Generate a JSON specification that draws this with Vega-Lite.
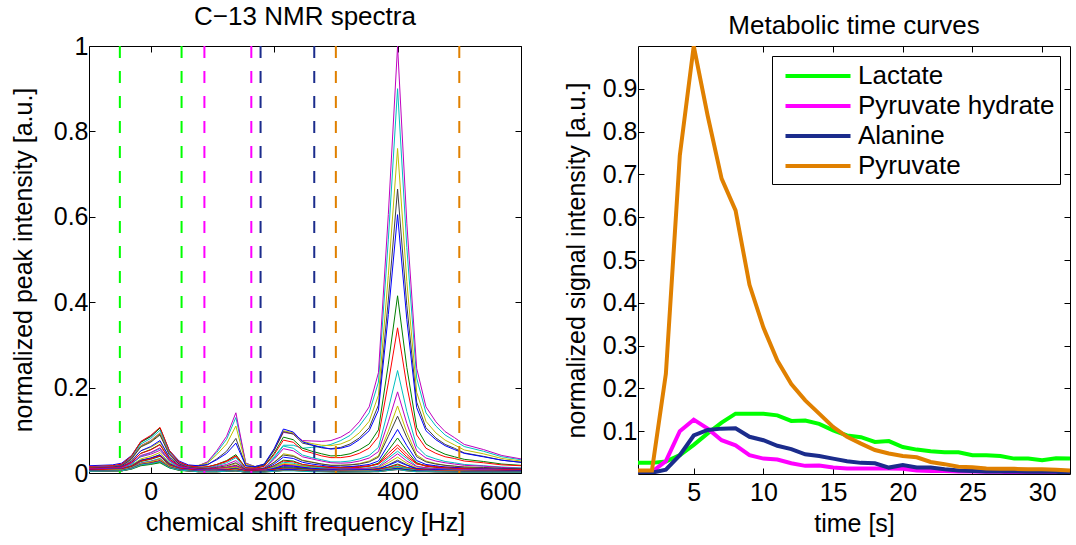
{
"$schema":"https://vega.github.io/schema/vega-lite/v6.json",
"background":"white",
"padding":{"left":10,"top":3,"right":5,"bottom":5},
"bounds":"flush",
"spacing":117,
"config":{
 "font":"Liberation Sans",
 "view":{"stroke":"black","strokeWidth":1},
 "axis":{"domain":false,"grid":false,"labelFont":"Liberation Sans","labelFontSize":25,"labelColor":"black","titleFont":"Liberation Sans","titleFontSize":25,"titleFontWeight":"normal","titleColor":"black","tickColor":"black","tickSize":-6,"tickWidth":1,"labelPadding":7,"titlePadding":17},
 "axisX":{"labelPadding":12,"titlePadding":6},
 "title":{"font":"Liberation Sans","fontSize":26,"fontWeight":"normal","color":"black","offset":0}
},
"datasets":{
"windows":[{"m":"Lactate","f":-50},{"m":"Lactate","f":50},{"m":"Pyruvate hydrate","f":87},{"m":"Pyruvate hydrate","f":163},{"m":"Alanine","f":178},{"m":"Alanine","f":265},{"m":"Pyruvate","f":300},{"m":"Pyruvate","f":500}],
"curves":[
{"m":"Lactate","t":1,"v":0.026},{"m":"Lactate","t":2,"v":0.026},{"m":"Lactate","t":3,"v":0.029},{"m":"Lactate","t":4,"v":0.044},{"m":"Lactate","t":5,"v":0.068},{"m":"Lactate","t":6,"v":0.095},{"m":"Lactate","t":7,"v":0.12},{"m":"Lactate","t":8,"v":0.141},{"m":"Lactate","t":9,"v":0.141},{"m":"Lactate","t":10,"v":0.141},{"m":"Lactate","t":11,"v":0.137},{"m":"Lactate","t":12,"v":0.124},{"m":"Lactate","t":13,"v":0.125},{"m":"Lactate","t":14,"v":0.117},{"m":"Lactate","t":15,"v":0.102},{"m":"Lactate","t":16,"v":0.09},{"m":"Lactate","t":17,"v":0.086},{"m":"Lactate","t":18,"v":0.075},{"m":"Lactate","t":19,"v":0.077},{"m":"Lactate","t":20,"v":0.063},{"m":"Lactate","t":21,"v":0.057},{"m":"Lactate","t":22,"v":0.053},{"m":"Lactate","t":23,"v":0.051},{"m":"Lactate","t":24,"v":0.051},{"m":"Lactate","t":25,"v":0.044},{"m":"Lactate","t":26,"v":0.044},{"m":"Lactate","t":27,"v":0.042},{"m":"Lactate","t":28,"v":0.036},{"m":"Lactate","t":29,"v":0.036},{"m":"Lactate","t":30,"v":0.032},{"m":"Lactate","t":31,"v":0.037},{"m":"Lactate","t":32,"v":0.036},
{"m":"Pyruvate hydrate","t":1,"v":0.003},{"m":"Pyruvate hydrate","t":2,"v":0.005},{"m":"Pyruvate hydrate","t":3,"v":0.03},{"m":"Pyruvate hydrate","t":4,"v":0.1},{"m":"Pyruvate hydrate","t":5,"v":0.127},{"m":"Pyruvate hydrate","t":6,"v":0.106},{"m":"Pyruvate hydrate","t":7,"v":0.079},{"m":"Pyruvate hydrate","t":8,"v":0.067},{"m":"Pyruvate hydrate","t":9,"v":0.044},{"m":"Pyruvate hydrate","t":10,"v":0.036},{"m":"Pyruvate hydrate","t":11,"v":0.034},{"m":"Pyruvate hydrate","t":12,"v":0.025},{"m":"Pyruvate hydrate","t":13,"v":0.019},{"m":"Pyruvate hydrate","t":14,"v":0.02},{"m":"Pyruvate hydrate","t":15,"v":0.015},{"m":"Pyruvate hydrate","t":16,"v":0.013},{"m":"Pyruvate hydrate","t":17,"v":0.013},{"m":"Pyruvate hydrate","t":18,"v":0.013},{"m":"Pyruvate hydrate","t":19,"v":0.013},{"m":"Pyruvate hydrate","t":20,"v":0.012},{"m":"Pyruvate hydrate","t":21,"v":0.008},{"m":"Pyruvate hydrate","t":22,"v":0.007},{"m":"Pyruvate hydrate","t":23,"v":0.007},{"m":"Pyruvate hydrate","t":24,"v":0.006},{"m":"Pyruvate hydrate","t":25,"v":0.006},{"m":"Pyruvate hydrate","t":26,"v":0.005},{"m":"Pyruvate hydrate","t":27,"v":0.005},{"m":"Pyruvate hydrate","t":28,"v":0.004},{"m":"Pyruvate hydrate","t":29,"v":0.004},{"m":"Pyruvate hydrate","t":30,"v":0.004},{"m":"Pyruvate hydrate","t":31,"v":0.003},{"m":"Pyruvate hydrate","t":32,"v":0.003},
{"m":"Alanine","t":1,"v":0.003},{"m":"Alanine","t":2,"v":0.003},{"m":"Alanine","t":3,"v":0.01},{"m":"Alanine","t":4,"v":0.044},{"m":"Alanine","t":5,"v":0.09},{"m":"Alanine","t":6,"v":0.103},{"m":"Alanine","t":7,"v":0.106},{"m":"Alanine","t":8,"v":0.107},{"m":"Alanine","t":9,"v":0.087},{"m":"Alanine","t":10,"v":0.079},{"m":"Alanine","t":11,"v":0.066},{"m":"Alanine","t":12,"v":0.058},{"m":"Alanine","t":13,"v":0.046},{"m":"Alanine","t":14,"v":0.042},{"m":"Alanine","t":15,"v":0.036},{"m":"Alanine","t":16,"v":0.03},{"m":"Alanine","t":17,"v":0.026},{"m":"Alanine","t":18,"v":0.025},{"m":"Alanine","t":19,"v":0.015},{"m":"Alanine","t":20,"v":0.021},{"m":"Alanine","t":21,"v":0.015},{"m":"Alanine","t":22,"v":0.015},{"m":"Alanine","t":23,"v":0.011},{"m":"Alanine","t":24,"v":0.008},{"m":"Alanine","t":25,"v":0.007},{"m":"Alanine","t":26,"v":0.006},{"m":"Alanine","t":27,"v":0.006},{"m":"Alanine","t":28,"v":0.006},{"m":"Alanine","t":29,"v":0.005},{"m":"Alanine","t":30,"v":0.005},{"m":"Alanine","t":31,"v":0.005},{"m":"Alanine","t":32,"v":0.003},
{"m":"Pyruvate","t":1,"v":0.008},{"m":"Pyruvate","t":2,"v":0.008},{"m":"Pyruvate","t":3,"v":0.234},{"m":"Pyruvate","t":4,"v":0.744},{"m":"Pyruvate","t":5,"v":1.0},{"m":"Pyruvate","t":6,"v":0.837},{"m":"Pyruvate","t":7,"v":0.69},{"m":"Pyruvate","t":8,"v":0.616},{"m":"Pyruvate","t":9,"v":0.442},{"m":"Pyruvate","t":10,"v":0.342},{"m":"Pyruvate","t":11,"v":0.265},{"m":"Pyruvate","t":12,"v":0.21},{"m":"Pyruvate","t":13,"v":0.172},{"m":"Pyruvate","t":14,"v":0.141},{"m":"Pyruvate","t":15,"v":0.11},{"m":"Pyruvate","t":16,"v":0.087},{"m":"Pyruvate","t":17,"v":0.071},{"m":"Pyruvate","t":18,"v":0.056},{"m":"Pyruvate","t":19,"v":0.048},{"m":"Pyruvate","t":20,"v":0.042},{"m":"Pyruvate","t":21,"v":0.039},{"m":"Pyruvate","t":22,"v":0.028},{"m":"Pyruvate","t":23,"v":0.023},{"m":"Pyruvate","t":24,"v":0.017},{"m":"Pyruvate","t":25,"v":0.016},{"m":"Pyruvate","t":26,"v":0.013},{"m":"Pyruvate","t":27,"v":0.012},{"m":"Pyruvate","t":28,"v":0.012},{"m":"Pyruvate","t":29,"v":0.011},{"m":"Pyruvate","t":30,"v":0.011},{"m":"Pyruvate","t":31,"v":0.01},{"m":"Pyruvate","t":32,"v":0.008}
],
"spectra":[
{"s":1,"f":-100,"v":0.011},{"s":1,"f":-47,"v":0.012},{"s":1,"f":-31,"v":0.016},{"s":1,"f":-16,"v":0.022},{"s":1,"f":0,"v":0.024},{"s":1,"f":15,"v":0.028},{"s":1,"f":30,"v":0.018},{"s":1,"f":46,"v":0.013},{"s":1,"f":77,"v":0.011},{"s":1,"f":107,"v":0.011},{"s":1,"f":123,"v":0.011},{"s":1,"f":138,"v":0.012},{"s":1,"f":154,"v":0.01},{"s":1,"f":184,"v":0.01},{"s":1,"f":200,"v":0.011},{"s":1,"f":215,"v":0.012},{"s":1,"f":231,"v":0.012},{"s":1,"f":261,"v":0.011},{"s":1,"f":308,"v":0.01},{"s":1,"f":354,"v":0.011},{"s":1,"f":369,"v":0.011},{"s":1,"f":385,"v":0.012},{"s":1,"f":400,"v":0.014},{"s":1,"f":415,"v":0.012},{"s":1,"f":431,"v":0.011},{"s":1,"f":462,"v":0.01},{"s":1,"f":508,"v":0.01},{"s":1,"f":554,"v":0.01},{"s":1,"f":600,"v":0.01},
{"s":2,"f":-100,"v":0.009},{"s":2,"f":-47,"v":0.01},{"s":2,"f":-31,"v":0.014},{"s":2,"f":-16,"v":0.02},{"s":2,"f":0,"v":0.022},{"s":2,"f":15,"v":0.026},{"s":2,"f":30,"v":0.016},{"s":2,"f":46,"v":0.011},{"s":2,"f":77,"v":0.009},{"s":2,"f":107,"v":0.009},{"s":2,"f":123,"v":0.01},{"s":2,"f":138,"v":0.012},{"s":2,"f":154,"v":0.008},{"s":2,"f":184,"v":0.008},{"s":2,"f":200,"v":0.01},{"s":2,"f":215,"v":0.011},{"s":2,"f":231,"v":0.011},{"s":2,"f":261,"v":0.009},{"s":2,"f":308,"v":0.009},{"s":2,"f":354,"v":0.009},{"s":2,"f":369,"v":0.009},{"s":2,"f":385,"v":0.012},{"s":2,"f":400,"v":0.014},{"s":2,"f":415,"v":0.011},{"s":2,"f":431,"v":0.009},{"s":2,"f":462,"v":0.009},{"s":2,"f":508,"v":0.008},{"s":2,"f":554,"v":0.008},{"s":2,"f":600,"v":0.008},
{"s":3,"f":-100,"v":0.011},{"s":3,"f":-47,"v":0.012},{"s":3,"f":-31,"v":0.016},{"s":3,"f":-16,"v":0.022},{"s":3,"f":0,"v":0.025},{"s":3,"f":15,"v":0.029},{"s":3,"f":30,"v":0.018},{"s":3,"f":46,"v":0.013},{"s":3,"f":77,"v":0.011},{"s":3,"f":107,"v":0.019},{"s":3,"f":123,"v":0.027},{"s":3,"f":138,"v":0.039},{"s":3,"f":154,"v":0.012},{"s":3,"f":184,"v":0.01},{"s":3,"f":200,"v":0.015},{"s":3,"f":215,"v":0.02},{"s":3,"f":231,"v":0.019},{"s":3,"f":261,"v":0.015},{"s":3,"f":308,"v":0.013},{"s":3,"f":354,"v":0.017},{"s":3,"f":369,"v":0.021},{"s":3,"f":385,"v":0.039},{"s":3,"f":400,"v":0.059},{"s":3,"f":415,"v":0.038},{"s":3,"f":431,"v":0.021},{"s":3,"f":462,"v":0.015},{"s":3,"f":508,"v":0.012},{"s":3,"f":554,"v":0.011},{"s":3,"f":600,"v":0.01},
{"s":4,"f":-100,"v":0.012},{"s":4,"f":-62,"v":0.012},{"s":4,"f":-47,"v":0.014},{"s":4,"f":-31,"v":0.02},{"s":4,"f":-16,"v":0.03},{"s":4,"f":0,"v":0.034},{"s":4,"f":15,"v":0.041},{"s":4,"f":30,"v":0.024},{"s":4,"f":46,"v":0.015},{"s":4,"f":61,"v":0.015},{"s":4,"f":77,"v":0.017},{"s":4,"f":92,"v":0.025},{"s":4,"f":107,"v":0.048},{"s":4,"f":123,"v":0.079},{"s":4,"f":138,"v":0.13},{"s":4,"f":154,"v":0.023},{"s":4,"f":169,"v":0.015},{"s":4,"f":184,"v":0.018},{"s":4,"f":200,"v":0.038},{"s":4,"f":215,"v":0.065},{"s":4,"f":231,"v":0.065},{"s":4,"f":246,"v":0.058},{"s":4,"f":261,"v":0.06},{"s":4,"f":277,"v":0.062},{"s":4,"f":292,"v":0.067},{"s":4,"f":308,"v":0.076},{"s":4,"f":323,"v":0.088},{"s":4,"f":338,"v":0.11},{"s":4,"f":354,"v":0.141},{"s":4,"f":369,"v":0.213},{"s":4,"f":385,"v":0.546},{"s":4,"f":400,"v":0.9},{"s":4,"f":415,"v":0.528},{"s":4,"f":431,"v":0.222},{"s":4,"f":446,"v":0.141},{"s":4,"f":462,"v":0.11},{"s":4,"f":477,"v":0.089},{"s":4,"f":492,"v":0.076},{"s":4,"f":508,"v":0.062},{"s":4,"f":539,"v":0.051},{"s":4,"f":569,"v":0.038},{"s":4,"f":600,"v":0.031},
{"s":5,"f":-100,"v":0.012},{"s":5,"f":-62,"v":0.013},{"s":5,"f":-47,"v":0.015},{"s":5,"f":-31,"v":0.023},{"s":5,"f":-16,"v":0.038},{"s":5,"f":0,"v":0.044},{"s":5,"f":15,"v":0.053},{"s":5,"f":30,"v":0.029},{"s":5,"f":46,"v":0.017},{"s":5,"f":61,"v":0.015},{"s":5,"f":77,"v":0.017},{"s":5,"f":92,"v":0.026},{"s":5,"f":107,"v":0.052},{"s":5,"f":123,"v":0.086},{"s":5,"f":138,"v":0.141},{"s":5,"f":154,"v":0.023},{"s":5,"f":169,"v":0.015},{"s":5,"f":184,"v":0.02},{"s":5,"f":200,"v":0.053},{"s":5,"f":215,"v":0.095},{"s":5,"f":231,"v":0.092},{"s":5,"f":246,"v":0.076},{"s":5,"f":261,"v":0.075},{"s":5,"f":277,"v":0.074},{"s":5,"f":292,"v":0.076},{"s":5,"f":308,"v":0.084},{"s":5,"f":323,"v":0.097},{"s":5,"f":338,"v":0.12},{"s":5,"f":354,"v":0.155},{"s":5,"f":369,"v":0.235},{"s":5,"f":385,"v":0.605},{"s":5,"f":400,"v":1.0},{"s":5,"f":415,"v":0.585},{"s":5,"f":431,"v":0.245},{"s":5,"f":446,"v":0.155},{"s":5,"f":462,"v":0.12},{"s":5,"f":477,"v":0.097},{"s":5,"f":492,"v":0.083},{"s":5,"f":508,"v":0.067},{"s":5,"f":539,"v":0.055},{"s":5,"f":569,"v":0.041},{"s":5,"f":600,"v":0.033},
{"s":6,"f":-100,"v":0.014},{"s":6,"f":-62,"v":0.016},{"s":6,"f":-47,"v":0.018},{"s":6,"f":-31,"v":0.03},{"s":6,"f":-16,"v":0.052},{"s":6,"f":0,"v":0.06},{"s":6,"f":15,"v":0.073},{"s":6,"f":30,"v":0.038},{"s":6,"f":46,"v":0.021},{"s":6,"f":61,"v":0.017},{"s":6,"f":77,"v":0.018},{"s":6,"f":92,"v":0.023},{"s":6,"f":107,"v":0.043},{"s":6,"f":123,"v":0.068},{"s":6,"f":138,"v":0.11},{"s":6,"f":154,"v":0.021},{"s":6,"f":169,"v":0.015},{"s":6,"f":184,"v":0.021},{"s":6,"f":200,"v":0.055},{"s":6,"f":215,"v":0.099},{"s":6,"f":231,"v":0.094},{"s":6,"f":246,"v":0.074},{"s":6,"f":261,"v":0.069},{"s":6,"f":277,"v":0.065},{"s":6,"f":292,"v":0.064},{"s":6,"f":308,"v":0.068},{"s":6,"f":323,"v":0.077},{"s":6,"f":338,"v":0.094},{"s":6,"f":354,"v":0.121},{"s":6,"f":369,"v":0.182},{"s":6,"f":385,"v":0.463},{"s":6,"f":400,"v":0.76},{"s":6,"f":415,"v":0.448},{"s":6,"f":431,"v":0.189},{"s":6,"f":446,"v":0.121},{"s":6,"f":462,"v":0.094},{"s":6,"f":477,"v":0.077},{"s":6,"f":492,"v":0.066},{"s":6,"f":508,"v":0.054},{"s":6,"f":539,"v":0.045},{"s":6,"f":569,"v":0.034},{"s":6,"f":600,"v":0.028},
{"s":7,"f":-100,"v":0.014},{"s":7,"f":-62,"v":0.016},{"s":7,"f":-47,"v":0.019},{"s":7,"f":-31,"v":0.035},{"s":7,"f":-16,"v":0.063},{"s":7,"f":0,"v":0.074},{"s":7,"f":15,"v":0.091},{"s":7,"f":30,"v":0.046},{"s":7,"f":46,"v":0.023},{"s":7,"f":61,"v":0.017},{"s":7,"f":77,"v":0.016},{"s":7,"f":92,"v":0.019},{"s":7,"f":107,"v":0.033},{"s":7,"f":123,"v":0.051},{"s":7,"f":138,"v":0.081},{"s":7,"f":154,"v":0.017},{"s":7,"f":169,"v":0.013},{"s":7,"f":184,"v":0.019},{"s":7,"f":200,"v":0.053},{"s":7,"f":215,"v":0.097},{"s":7,"f":231,"v":0.091},{"s":7,"f":246,"v":0.07},{"s":7,"f":261,"v":0.065},{"s":7,"f":277,"v":0.059},{"s":7,"f":292,"v":0.057},{"s":7,"f":308,"v":0.06},{"s":7,"f":323,"v":0.068},{"s":7,"f":338,"v":0.082},{"s":7,"f":354,"v":0.106},{"s":7,"f":369,"v":0.159},{"s":7,"f":385,"v":0.405},{"s":7,"f":400,"v":0.665},{"s":7,"f":415,"v":0.392},{"s":7,"f":431,"v":0.166},{"s":7,"f":446,"v":0.106},{"s":7,"f":462,"v":0.082},{"s":7,"f":477,"v":0.067},{"s":7,"f":492,"v":0.058},{"s":7,"f":508,"v":0.047},{"s":7,"f":539,"v":0.039},{"s":7,"f":569,"v":0.03},{"s":7,"f":600,"v":0.025},
{"s":8,"f":-100,"v":0.017},{"s":8,"f":-62,"v":0.019},{"s":8,"f":-47,"v":0.023},{"s":8,"f":-31,"v":0.041},{"s":8,"f":-16,"v":0.073},{"s":8,"f":0,"v":0.086},{"s":8,"f":15,"v":0.105},{"s":8,"f":30,"v":0.053},{"s":8,"f":46,"v":0.028},{"s":8,"f":61,"v":0.019},{"s":8,"f":77,"v":0.017},{"s":8,"f":92,"v":0.02},{"s":8,"f":107,"v":0.031},{"s":8,"f":123,"v":0.046},{"s":8,"f":138,"v":0.07},{"s":8,"f":154,"v":0.017},{"s":8,"f":169,"v":0.015},{"s":8,"f":184,"v":0.021},{"s":8,"f":200,"v":0.057},{"s":8,"f":215,"v":0.103},{"s":8,"f":231,"v":0.096},{"s":8,"f":246,"v":0.073},{"s":8,"f":261,"v":0.066},{"s":8,"f":277,"v":0.06},{"s":8,"f":292,"v":0.056},{"s":8,"f":308,"v":0.058},{"s":8,"f":323,"v":0.064},{"s":8,"f":338,"v":0.078},{"s":8,"f":354,"v":0.099},{"s":8,"f":369,"v":0.147},{"s":8,"f":385,"v":0.371},{"s":8,"f":400,"v":0.605},{"s":8,"f":415,"v":0.359},{"s":8,"f":431,"v":0.153},{"s":8,"f":446,"v":0.099},{"s":8,"f":462,"v":0.078},{"s":8,"f":477,"v":0.064},{"s":8,"f":492,"v":0.055},{"s":8,"f":508,"v":0.046},{"s":8,"f":539,"v":0.038},{"s":8,"f":569,"v":0.03},{"s":8,"f":600,"v":0.025},
{"s":9,"f":-100,"v":0.015},{"s":9,"f":-62,"v":0.016},{"s":9,"f":-47,"v":0.02},{"s":9,"f":-31,"v":0.039},{"s":9,"f":-16,"v":0.072},{"s":9,"f":0,"v":0.085},{"s":9,"f":15,"v":0.105},{"s":9,"f":30,"v":0.051},{"s":9,"f":46,"v":0.025},{"s":9,"f":61,"v":0.016},{"s":9,"f":77,"v":0.013},{"s":9,"f":92,"v":0.014},{"s":9,"f":107,"v":0.02},{"s":9,"f":123,"v":0.029},{"s":9,"f":138,"v":0.043},{"s":9,"f":154,"v":0.012},{"s":9,"f":169,"v":0.011},{"s":9,"f":184,"v":0.016},{"s":9,"f":200,"v":0.046},{"s":9,"f":215,"v":0.084},{"s":9,"f":231,"v":0.078},{"s":9,"f":246,"v":0.058},{"s":9,"f":261,"v":0.051},{"s":9,"f":277,"v":0.045},{"s":9,"f":292,"v":0.04},{"s":9,"f":308,"v":0.041},{"s":9,"f":323,"v":0.045},{"s":9,"f":338,"v":0.054},{"s":9,"f":354,"v":0.068},{"s":9,"f":369,"v":0.101},{"s":9,"f":385,"v":0.255},{"s":9,"f":400,"v":0.415},{"s":9,"f":415,"v":0.247},{"s":9,"f":431,"v":0.106},{"s":9,"f":446,"v":0.068},{"s":9,"f":462,"v":0.054},{"s":9,"f":477,"v":0.044},{"s":9,"f":492,"v":0.038},{"s":9,"f":508,"v":0.032},{"s":9,"f":539,"v":0.027},{"s":9,"f":569,"v":0.021},{"s":9,"f":600,"v":0.018},
{"s":10,"f":-100,"v":0.015},{"s":10,"f":-62,"v":0.017},{"s":10,"f":-47,"v":0.021},{"s":10,"f":-31,"v":0.04},{"s":10,"f":-16,"v":0.074},{"s":10,"f":0,"v":0.088},{"s":10,"f":15,"v":0.107},{"s":10,"f":30,"v":0.053},{"s":10,"f":46,"v":0.026},{"s":10,"f":61,"v":0.017},{"s":10,"f":77,"v":0.014},{"s":10,"f":92,"v":0.014},{"s":10,"f":107,"v":0.02},{"s":10,"f":123,"v":0.028},{"s":10,"f":138,"v":0.04},{"s":10,"f":154,"v":0.012},{"s":10,"f":169,"v":0.011},{"s":10,"f":184,"v":0.016},{"s":10,"f":200,"v":0.043},{"s":10,"f":215,"v":0.077},{"s":10,"f":231,"v":0.072},{"s":10,"f":246,"v":0.053},{"s":10,"f":261,"v":0.047},{"s":10,"f":277,"v":0.04},{"s":10,"f":292,"v":0.036},{"s":10,"f":308,"v":0.036},{"s":10,"f":323,"v":0.039},{"s":10,"f":338,"v":0.046},{"s":10,"f":354,"v":0.058},{"s":10,"f":369,"v":0.085},{"s":10,"f":385,"v":0.211},{"s":10,"f":400,"v":0.34},{"s":10,"f":415,"v":0.204},{"s":10,"f":431,"v":0.089},{"s":10,"f":446,"v":0.058},{"s":10,"f":462,"v":0.046},{"s":10,"f":477,"v":0.038},{"s":10,"f":492,"v":0.034},{"s":10,"f":508,"v":0.028},{"s":10,"f":539,"v":0.024},{"s":10,"f":569,"v":0.019},{"s":10,"f":600,"v":0.017},
{"s":11,"f":-100,"v":0.013},{"s":11,"f":-62,"v":0.015},{"s":11,"f":-47,"v":0.018},{"s":11,"f":-31,"v":0.036},{"s":11,"f":-16,"v":0.068},{"s":11,"f":0,"v":0.081},{"s":11,"f":15,"v":0.1},{"s":11,"f":30,"v":0.048},{"s":11,"f":46,"v":0.023},{"s":11,"f":61,"v":0.014},{"s":11,"f":77,"v":0.011},{"s":11,"f":92,"v":0.012},{"s":11,"f":107,"v":0.017},{"s":11,"f":123,"v":0.024},{"s":11,"f":138,"v":0.036},{"s":11,"f":154,"v":0.009},{"s":11,"f":169,"v":0.008},{"s":11,"f":184,"v":0.012},{"s":11,"f":200,"v":0.035},{"s":11,"f":215,"v":0.063},{"s":11,"f":231,"v":0.058},{"s":11,"f":246,"v":0.042},{"s":11,"f":261,"v":0.036},{"s":11,"f":277,"v":0.031},{"s":11,"f":292,"v":0.026},{"s":11,"f":308,"v":0.026},{"s":11,"f":323,"v":0.028},{"s":11,"f":338,"v":0.033},{"s":11,"f":354,"v":0.041},{"s":11,"f":369,"v":0.06},{"s":11,"f":385,"v":0.149},{"s":11,"f":400,"v":0.24},{"s":11,"f":415,"v":0.144},{"s":11,"f":431,"v":0.063},{"s":11,"f":446,"v":0.041},{"s":11,"f":462,"v":0.033},{"s":11,"f":477,"v":0.027},{"s":11,"f":492,"v":0.024},{"s":11,"f":508,"v":0.02},{"s":11,"f":539,"v":0.017},{"s":11,"f":569,"v":0.014},{"s":11,"f":600,"v":0.012},
{"s":12,"f":-100,"v":0.013},{"s":12,"f":-62,"v":0.015},{"s":12,"f":-47,"v":0.018},{"s":12,"f":-31,"v":0.035},{"s":12,"f":-16,"v":0.064},{"s":12,"f":0,"v":0.076},{"s":12,"f":15,"v":0.094},{"s":12,"f":30,"v":0.046},{"s":12,"f":46,"v":0.023},{"s":12,"f":61,"v":0.014},{"s":12,"f":77,"v":0.011},{"s":12,"f":92,"v":0.011},{"s":12,"f":107,"v":0.015},{"s":12,"f":123,"v":0.02},{"s":12,"f":138,"v":0.029},{"s":12,"f":154,"v":0.009},{"s":12,"f":169,"v":0.009},{"s":12,"f":184,"v":0.012},{"s":12,"f":200,"v":0.032},{"s":12,"f":215,"v":0.057},{"s":12,"f":231,"v":0.052},{"s":12,"f":246,"v":0.038},{"s":12,"f":261,"v":0.033},{"s":12,"f":277,"v":0.028},{"s":12,"f":292,"v":0.024},{"s":12,"f":308,"v":0.023},{"s":12,"f":323,"v":0.024},{"s":12,"f":338,"v":0.028},{"s":12,"f":354,"v":0.035},{"s":12,"f":369,"v":0.05},{"s":12,"f":385,"v":0.12},{"s":12,"f":400,"v":0.19},{"s":12,"f":415,"v":0.116},{"s":12,"f":431,"v":0.052},{"s":12,"f":446,"v":0.035},{"s":12,"f":462,"v":0.028},{"s":12,"f":477,"v":0.024},{"s":12,"f":492,"v":0.021},{"s":12,"f":508,"v":0.018},{"s":12,"f":539,"v":0.016},{"s":12,"f":569,"v":0.013},{"s":12,"f":600,"v":0.011},
{"s":13,"f":-100,"v":0.011},{"s":13,"f":-62,"v":0.013},{"s":13,"f":-47,"v":0.016},{"s":13,"f":-31,"v":0.033},{"s":13,"f":-16,"v":0.063},{"s":13,"f":0,"v":0.075},{"s":13,"f":15,"v":0.093},{"s":13,"f":30,"v":0.044},{"s":13,"f":46,"v":0.02},{"s":13,"f":61,"v":0.012},{"s":13,"f":77,"v":0.009},{"s":13,"f":92,"v":0.008},{"s":13,"f":107,"v":0.011},{"s":13,"f":123,"v":0.015},{"s":13,"f":138,"v":0.022},{"s":13,"f":154,"v":0.007},{"s":13,"f":169,"v":0.006},{"s":13,"f":184,"v":0.009},{"s":13,"f":200,"v":0.025},{"s":13,"f":215,"v":0.045},{"s":13,"f":231,"v":0.041},{"s":13,"f":246,"v":0.03},{"s":13,"f":261,"v":0.026},{"s":13,"f":277,"v":0.021},{"s":13,"f":292,"v":0.018},{"s":13,"f":308,"v":0.018},{"s":13,"f":323,"v":0.019},{"s":13,"f":338,"v":0.022},{"s":13,"f":354,"v":0.028},{"s":13,"f":369,"v":0.04},{"s":13,"f":385,"v":0.098},{"s":13,"f":400,"v":0.157},{"s":13,"f":415,"v":0.095},{"s":13,"f":431,"v":0.042},{"s":13,"f":446,"v":0.028},{"s":13,"f":462,"v":0.022},{"s":13,"f":477,"v":0.018},{"s":13,"f":492,"v":0.016},{"s":13,"f":508,"v":0.014},{"s":13,"f":539,"v":0.012},{"s":13,"f":569,"v":0.01},{"s":13,"f":600,"v":0.008},
{"s":14,"f":-100,"v":0.012},{"s":14,"f":-62,"v":0.014},{"s":14,"f":-47,"v":0.017},{"s":14,"f":-31,"v":0.033},{"s":14,"f":-16,"v":0.061},{"s":14,"f":0,"v":0.072},{"s":14,"f":15,"v":0.089},{"s":14,"f":30,"v":0.043},{"s":14,"f":46,"v":0.021},{"s":14,"f":61,"v":0.013},{"s":14,"f":77,"v":0.011},{"s":14,"f":92,"v":0.01},{"s":14,"f":107,"v":0.013},{"s":14,"f":123,"v":0.017},{"s":14,"f":138,"v":0.024},{"s":14,"f":154,"v":0.008},{"s":14,"f":169,"v":0.008},{"s":14,"f":184,"v":0.011},{"s":14,"f":200,"v":0.025},{"s":14,"f":215,"v":0.042},{"s":14,"f":231,"v":0.039},{"s":14,"f":246,"v":0.029},{"s":14,"f":261,"v":0.025},{"s":14,"f":277,"v":0.021},{"s":14,"f":292,"v":0.018},{"s":14,"f":308,"v":0.018},{"s":14,"f":323,"v":0.019},{"s":14,"f":338,"v":0.021},{"s":14,"f":354,"v":0.026},{"s":14,"f":369,"v":0.037},{"s":14,"f":385,"v":0.086},{"s":14,"f":400,"v":0.133},{"s":14,"f":415,"v":0.083},{"s":14,"f":431,"v":0.038},{"s":14,"f":446,"v":0.026},{"s":14,"f":462,"v":0.021},{"s":14,"f":477,"v":0.018},{"s":14,"f":492,"v":0.016},{"s":14,"f":508,"v":0.014},{"s":14,"f":539,"v":0.013},{"s":14,"f":569,"v":0.011},{"s":14,"f":600,"v":0.01},
{"s":15,"f":-100,"v":0.01},{"s":15,"f":-62,"v":0.012},{"s":15,"f":-47,"v":0.015},{"s":15,"f":-31,"v":0.028},{"s":15,"f":-16,"v":0.052},{"s":15,"f":0,"v":0.062},{"s":15,"f":15,"v":0.076},{"s":15,"f":30,"v":0.037},{"s":15,"f":46,"v":0.018},{"s":15,"f":61,"v":0.011},{"s":15,"f":77,"v":0.009},{"s":15,"f":92,"v":0.008},{"s":15,"f":107,"v":0.01},{"s":15,"f":123,"v":0.013},{"s":15,"f":138,"v":0.018},{"s":15,"f":154,"v":0.007},{"s":15,"f":169,"v":0.007},{"s":15,"f":184,"v":0.009},{"s":15,"f":200,"v":0.021},{"s":15,"f":215,"v":0.037},{"s":15,"f":231,"v":0.034},{"s":15,"f":246,"v":0.025},{"s":15,"f":261,"v":0.021},{"s":15,"f":277,"v":0.018},{"s":15,"f":292,"v":0.015},{"s":15,"f":308,"v":0.014},{"s":15,"f":323,"v":0.015},{"s":15,"f":338,"v":0.017},{"s":15,"f":354,"v":0.02},{"s":15,"f":369,"v":0.028},{"s":15,"f":385,"v":0.066},{"s":15,"f":400,"v":0.102},{"s":15,"f":415,"v":0.064},{"s":15,"f":431,"v":0.029},{"s":15,"f":446,"v":0.02},{"s":15,"f":462,"v":0.017},{"s":15,"f":477,"v":0.014},{"s":15,"f":492,"v":0.013},{"s":15,"f":508,"v":0.011},{"s":15,"f":539,"v":0.01},{"s":15,"f":569,"v":0.009},{"s":15,"f":600,"v":0.008},
{"s":16,"f":-100,"v":0.009},{"s":16,"f":-62,"v":0.01},{"s":16,"f":-47,"v":0.013},{"s":16,"f":-31,"v":0.025},{"s":16,"f":-16,"v":0.046},{"s":16,"f":0,"v":0.055},{"s":16,"f":15,"v":0.067},{"s":16,"f":30,"v":0.033},{"s":16,"f":46,"v":0.016},{"s":16,"f":61,"v":0.01},{"s":16,"f":77,"v":0.007},{"s":16,"f":92,"v":0.007},{"s":16,"f":107,"v":0.008},{"s":16,"f":123,"v":0.011},{"s":16,"f":138,"v":0.015},{"s":16,"f":154,"v":0.006},{"s":16,"f":169,"v":0.005},{"s":16,"f":184,"v":0.007},{"s":16,"f":200,"v":0.017},{"s":16,"f":215,"v":0.03},{"s":16,"f":231,"v":0.028},{"s":16,"f":246,"v":0.02},{"s":16,"f":261,"v":0.017},{"s":16,"f":277,"v":0.014},{"s":16,"f":292,"v":0.012},{"s":16,"f":308,"v":0.012},{"s":16,"f":323,"v":0.012},{"s":16,"f":338,"v":0.013},{"s":16,"f":354,"v":0.016},{"s":16,"f":369,"v":0.023},{"s":16,"f":385,"v":0.053},{"s":16,"f":400,"v":0.082},{"s":16,"f":415,"v":0.052},{"s":16,"f":431,"v":0.024},{"s":16,"f":446,"v":0.016},{"s":16,"f":462,"v":0.013},{"s":16,"f":477,"v":0.012},{"s":16,"f":492,"v":0.01},{"s":16,"f":508,"v":0.009},{"s":16,"f":539,"v":0.008},{"s":16,"f":569,"v":0.007},{"s":16,"f":600,"v":0.006},
{"s":17,"f":-100,"v":0.011},{"s":17,"f":-62,"v":0.012},{"s":17,"f":-47,"v":0.014},{"s":17,"f":-31,"v":0.026},{"s":17,"f":-16,"v":0.046},{"s":17,"f":0,"v":0.054},{"s":17,"f":15,"v":0.066},{"s":17,"f":30,"v":0.033},{"s":17,"f":46,"v":0.017},{"s":17,"f":61,"v":0.011},{"s":17,"f":77,"v":0.009},{"s":17,"f":92,"v":0.009},{"s":17,"f":107,"v":0.01},{"s":17,"f":123,"v":0.013},{"s":17,"f":138,"v":0.017},{"s":17,"f":154,"v":0.007},{"s":17,"f":169,"v":0.007},{"s":17,"f":184,"v":0.009},{"s":17,"f":200,"v":0.017},{"s":17,"f":215,"v":0.028},{"s":17,"f":231,"v":0.026},{"s":17,"f":246,"v":0.02},{"s":17,"f":261,"v":0.017},{"s":17,"f":277,"v":0.015},{"s":17,"f":292,"v":0.013},{"s":17,"f":308,"v":0.012},{"s":17,"f":323,"v":0.012},{"s":17,"f":338,"v":0.014},{"s":17,"f":354,"v":0.016},{"s":17,"f":369,"v":0.021},{"s":17,"f":385,"v":0.046},{"s":17,"f":400,"v":0.066},{"s":17,"f":415,"v":0.044},{"s":17,"f":431,"v":0.022},{"s":17,"f":446,"v":0.016},{"s":17,"f":462,"v":0.014},{"s":17,"f":477,"v":0.012},{"s":17,"f":492,"v":0.011},{"s":17,"f":508,"v":0.01},{"s":17,"f":539,"v":0.009},{"s":17,"f":569,"v":0.008},{"s":17,"f":600,"v":0.008},
{"s":18,"f":-100,"v":0.008},{"s":18,"f":-62,"v":0.009},{"s":18,"f":-47,"v":0.011},{"s":18,"f":-31,"v":0.021},{"s":18,"f":-16,"v":0.039},{"s":18,"f":0,"v":0.047},{"s":18,"f":15,"v":0.057},{"s":18,"f":30,"v":0.028},{"s":18,"f":46,"v":0.014},{"s":18,"f":61,"v":0.009},{"s":18,"f":77,"v":0.007},{"s":18,"f":92,"v":0.007},{"s":18,"f":107,"v":0.008},{"s":18,"f":123,"v":0.011},{"s":18,"f":138,"v":0.015},{"s":18,"f":154,"v":0.005},{"s":18,"f":169,"v":0.005},{"s":18,"f":184,"v":0.006},{"s":18,"f":200,"v":0.015},{"s":18,"f":215,"v":0.025},{"s":18,"f":231,"v":0.023},{"s":18,"f":246,"v":0.017},{"s":18,"f":261,"v":0.014},{"s":18,"f":277,"v":0.012},{"s":18,"f":292,"v":0.01},{"s":18,"f":308,"v":0.009},{"s":18,"f":323,"v":0.009},{"s":18,"f":338,"v":0.01},{"s":18,"f":354,"v":0.012},{"s":18,"f":369,"v":0.016},{"s":18,"f":385,"v":0.035},{"s":18,"f":400,"v":0.051},{"s":18,"f":415,"v":0.034},{"s":18,"f":431,"v":0.016},{"s":18,"f":446,"v":0.012},{"s":18,"f":462,"v":0.01},{"s":18,"f":477,"v":0.009},{"s":18,"f":492,"v":0.008},{"s":18,"f":508,"v":0.007},{"s":18,"f":539,"v":0.007},{"s":18,"f":569,"v":0.006},{"s":18,"f":600,"v":0.005},
{"s":19,"f":-100,"v":0.009},{"s":19,"f":-47,"v":0.012},{"s":19,"f":-31,"v":0.023},{"s":19,"f":-16,"v":0.041},{"s":19,"f":0,"v":0.048},{"s":19,"f":15,"v":0.059},{"s":19,"f":30,"v":0.03},{"s":19,"f":46,"v":0.015},{"s":19,"f":77,"v":0.008},{"s":19,"f":107,"v":0.009},{"s":19,"f":123,"v":0.012},{"s":19,"f":138,"v":0.016},{"s":19,"f":154,"v":0.006},{"s":19,"f":184,"v":0.007},{"s":19,"f":200,"v":0.011},{"s":19,"f":215,"v":0.018},{"s":19,"f":231,"v":0.017},{"s":19,"f":261,"v":0.011},{"s":19,"f":308,"v":0.009},{"s":19,"f":354,"v":0.011},{"s":19,"f":369,"v":0.014},{"s":19,"f":385,"v":0.029},{"s":19,"f":400,"v":0.045},{"s":19,"f":415,"v":0.028},{"s":19,"f":431,"v":0.015},{"s":19,"f":462,"v":0.01},{"s":19,"f":508,"v":0.008},{"s":19,"f":554,"v":0.007},{"s":19,"f":600,"v":0.006},
{"s":20,"f":-100,"v":0.007},{"s":20,"f":-47,"v":0.01},{"s":20,"f":-31,"v":0.018},{"s":20,"f":-16,"v":0.033},{"s":20,"f":0,"v":0.039},{"s":20,"f":15,"v":0.048},{"s":20,"f":30,"v":0.024},{"s":20,"f":46,"v":0.012},{"s":20,"f":77,"v":0.006},{"s":20,"f":107,"v":0.008},{"s":20,"f":123,"v":0.01},{"s":20,"f":138,"v":0.014},{"s":20,"f":154,"v":0.005},{"s":20,"f":184,"v":0.006},{"s":20,"f":200,"v":0.013},{"s":20,"f":215,"v":0.022},{"s":20,"f":231,"v":0.02},{"s":20,"f":261,"v":0.012},{"s":20,"f":308,"v":0.007},{"s":20,"f":354,"v":0.009},{"s":20,"f":369,"v":0.012},{"s":20,"f":385,"v":0.024},{"s":20,"f":400,"v":0.037},{"s":20,"f":415,"v":0.023},{"s":20,"f":431,"v":0.012},{"s":20,"f":462,"v":0.008},{"s":20,"f":508,"v":0.006},{"s":20,"f":554,"v":0.005},{"s":20,"f":600,"v":0.005},
{"s":21,"f":-100,"v":0.006},{"s":21,"f":-47,"v":0.008},{"s":21,"f":-31,"v":0.016},{"s":21,"f":-16,"v":0.03},{"s":21,"f":0,"v":0.035},{"s":21,"f":15,"v":0.043},{"s":21,"f":30,"v":0.021},{"s":21,"f":46,"v":0.01},{"s":21,"f":77,"v":0.005},{"s":21,"f":107,"v":0.006},{"s":21,"f":123,"v":0.007},{"s":21,"f":138,"v":0.01},{"s":21,"f":154,"v":0.004},{"s":21,"f":184,"v":0.004},{"s":21,"f":200,"v":0.009},{"s":21,"f":215,"v":0.015},{"s":21,"f":231,"v":0.014},{"s":21,"f":261,"v":0.009},{"s":21,"f":308,"v":0.006},{"s":21,"f":354,"v":0.007},{"s":21,"f":369,"v":0.009},{"s":21,"f":385,"v":0.019},{"s":21,"f":400,"v":0.03},{"s":21,"f":415,"v":0.019},{"s":21,"f":431,"v":0.01},{"s":21,"f":462,"v":0.006},{"s":21,"f":508,"v":0.005},{"s":21,"f":554,"v":0.004},{"s":21,"f":600,"v":0.004},
{"s":22,"f":-100,"v":0.008},{"s":22,"f":-47,"v":0.01},{"s":22,"f":-31,"v":0.017},{"s":22,"f":-16,"v":0.029},{"s":22,"f":0,"v":0.035},{"s":22,"f":15,"v":0.042},{"s":22,"f":30,"v":0.022},{"s":22,"f":46,"v":0.012},{"s":22,"f":77,"v":0.007},{"s":22,"f":107,"v":0.007},{"s":22,"f":123,"v":0.008},{"s":22,"f":138,"v":0.01},{"s":22,"f":154,"v":0.006},{"s":22,"f":184,"v":0.006},{"s":22,"f":200,"v":0.011},{"s":22,"f":215,"v":0.017},{"s":22,"f":231,"v":0.016},{"s":22,"f":261,"v":0.011},{"s":22,"f":308,"v":0.007},{"s":22,"f":354,"v":0.008},{"s":22,"f":369,"v":0.01},{"s":22,"f":385,"v":0.018},{"s":22,"f":400,"v":0.027},{"s":22,"f":415,"v":0.018},{"s":22,"f":431,"v":0.01},{"s":22,"f":462,"v":0.008},{"s":22,"f":508,"v":0.006},{"s":22,"f":554,"v":0.006},{"s":22,"f":600,"v":0.006},
{"s":23,"f":-100,"v":0.006},{"s":23,"f":-47,"v":0.008},{"s":23,"f":-31,"v":0.015},{"s":23,"f":-16,"v":0.027},{"s":23,"f":0,"v":0.032},{"s":23,"f":15,"v":0.039},{"s":23,"f":30,"v":0.019},{"s":23,"f":46,"v":0.01},{"s":23,"f":77,"v":0.005},{"s":23,"f":107,"v":0.005},{"s":23,"f":123,"v":0.006},{"s":23,"f":138,"v":0.008},{"s":23,"f":154,"v":0.004},{"s":23,"f":184,"v":0.004},{"s":23,"f":200,"v":0.008},{"s":23,"f":215,"v":0.012},{"s":23,"f":231,"v":0.011},{"s":23,"f":261,"v":0.007},{"s":23,"f":308,"v":0.005},{"s":23,"f":354,"v":0.006},{"s":23,"f":369,"v":0.007},{"s":23,"f":385,"v":0.014},{"s":23,"f":400,"v":0.021},{"s":23,"f":415,"v":0.013},{"s":23,"f":431,"v":0.007},{"s":23,"f":462,"v":0.005},{"s":23,"f":508,"v":0.004},{"s":23,"f":554,"v":0.004},{"s":23,"f":600,"v":0.004},
{"s":24,"f":-100,"v":0.007},{"s":24,"f":-47,"v":0.009},{"s":24,"f":-31,"v":0.016},{"s":24,"f":-16,"v":0.028},{"s":24,"f":0,"v":0.033},{"s":24,"f":15,"v":0.04},{"s":24,"f":30,"v":0.02},{"s":24,"f":46,"v":0.011},{"s":24,"f":77,"v":0.006},{"s":24,"f":107,"v":0.006},{"s":24,"f":123,"v":0.007},{"s":24,"f":138,"v":0.009},{"s":24,"f":154,"v":0.005},{"s":24,"f":184,"v":0.005},{"s":24,"f":200,"v":0.008},{"s":24,"f":215,"v":0.011},{"s":24,"f":231,"v":0.01},{"s":24,"f":261,"v":0.007},{"s":24,"f":308,"v":0.006},{"s":24,"f":354,"v":0.006},{"s":24,"f":369,"v":0.008},{"s":24,"f":385,"v":0.013},{"s":24,"f":400,"v":0.019},{"s":24,"f":415,"v":0.013},{"s":24,"f":431,"v":0.008},{"s":24,"f":462,"v":0.006},{"s":24,"f":508,"v":0.005},{"s":24,"f":554,"v":0.005},{"s":24,"f":600,"v":0.004},
{"s":25,"f":-100,"v":0.005},{"s":25,"f":-47,"v":0.007},{"s":25,"f":-31,"v":0.013},{"s":25,"f":-16,"v":0.024},{"s":25,"f":0,"v":0.028},{"s":25,"f":15,"v":0.034},{"s":25,"f":30,"v":0.017},{"s":25,"f":46,"v":0.009},{"s":25,"f":77,"v":0.004},{"s":25,"f":107,"v":0.005},{"s":25,"f":123,"v":0.005},{"s":25,"f":138,"v":0.007},{"s":25,"f":154,"v":0.003},{"s":25,"f":184,"v":0.004},{"s":25,"f":200,"v":0.006},{"s":25,"f":215,"v":0.009},{"s":25,"f":231,"v":0.009},{"s":25,"f":261,"v":0.006},{"s":25,"f":308,"v":0.004},{"s":25,"f":354,"v":0.005},{"s":25,"f":369,"v":0.006},{"s":25,"f":385,"v":0.011},{"s":25,"f":400,"v":0.016},{"s":25,"f":415,"v":0.011},{"s":25,"f":431,"v":0.006},{"s":25,"f":462,"v":0.004},{"s":25,"f":508,"v":0.004},{"s":25,"f":554,"v":0.004},{"s":25,"f":600,"v":0.003},
{"s":26,"f":-100,"v":0.004},{"s":26,"f":-47,"v":0.006},{"s":26,"f":-31,"v":0.012},{"s":26,"f":-16,"v":0.023},{"s":26,"f":0,"v":0.027},{"s":26,"f":15,"v":0.033},{"s":26,"f":30,"v":0.016},{"s":26,"f":46,"v":0.008},{"s":26,"f":77,"v":0.004},{"s":26,"f":107,"v":0.004},{"s":26,"f":123,"v":0.005},{"s":26,"f":138,"v":0.006},{"s":26,"f":154,"v":0.002},{"s":26,"f":184,"v":0.003},{"s":26,"f":200,"v":0.005},{"s":26,"f":215,"v":0.008},{"s":26,"f":231,"v":0.008},{"s":26,"f":261,"v":0.005},{"s":26,"f":308,"v":0.003},{"s":26,"f":354,"v":0.004},{"s":26,"f":369,"v":0.005},{"s":26,"f":385,"v":0.009},{"s":26,"f":400,"v":0.013},{"s":26,"f":415,"v":0.008},{"s":26,"f":431,"v":0.005},{"s":26,"f":462,"v":0.003},{"s":26,"f":508,"v":0.003},{"s":26,"f":554,"v":0.002},{"s":26,"f":600,"v":0.002},
{"s":27,"f":-100,"v":0.005},{"s":27,"f":-47,"v":0.007},{"s":27,"f":-31,"v":0.012},{"s":27,"f":-16,"v":0.022},{"s":27,"f":0,"v":0.026},{"s":27,"f":15,"v":0.032},{"s":27,"f":30,"v":0.016},{"s":27,"f":46,"v":0.008},{"s":27,"f":77,"v":0.004},{"s":27,"f":107,"v":0.004},{"s":27,"f":123,"v":0.005},{"s":27,"f":138,"v":0.007},{"s":27,"f":154,"v":0.003},{"s":27,"f":184,"v":0.004},{"s":27,"f":200,"v":0.006},{"s":27,"f":215,"v":0.008},{"s":27,"f":231,"v":0.008},{"s":27,"f":261,"v":0.005},{"s":27,"f":308,"v":0.004},{"s":27,"f":354,"v":0.005},{"s":27,"f":369,"v":0.005},{"s":27,"f":385,"v":0.009},{"s":27,"f":400,"v":0.013},{"s":27,"f":415,"v":0.009},{"s":27,"f":431,"v":0.005},{"s":27,"f":462,"v":0.004},{"s":27,"f":508,"v":0.004},{"s":27,"f":554,"v":0.003},{"s":27,"f":600,"v":0.003},
{"s":28,"f":-100,"v":0.004},{"s":28,"f":-47,"v":0.005},{"s":28,"f":-31,"v":0.01},{"s":28,"f":-16,"v":0.019},{"s":28,"f":0,"v":0.022},{"s":28,"f":15,"v":0.027},{"s":28,"f":30,"v":0.013},{"s":28,"f":46,"v":0.007},{"s":28,"f":77,"v":0.003},{"s":28,"f":107,"v":0.003},{"s":28,"f":123,"v":0.004},{"s":28,"f":138,"v":0.005},{"s":28,"f":154,"v":0.002},{"s":28,"f":184,"v":0.003},{"s":28,"f":200,"v":0.005},{"s":28,"f":215,"v":0.007},{"s":28,"f":231,"v":0.007},{"s":28,"f":261,"v":0.004},{"s":28,"f":308,"v":0.003},{"s":28,"f":354,"v":0.003},{"s":28,"f":369,"v":0.004},{"s":28,"f":385,"v":0.007},{"s":28,"f":400,"v":0.011},{"s":28,"f":415,"v":0.007},{"s":28,"f":431,"v":0.004},{"s":28,"f":462,"v":0.003},{"s":28,"f":508,"v":0.003},{"s":28,"f":554,"v":0.002},{"s":28,"f":600,"v":0.002},
{"s":29,"f":-100,"v":0.005},{"s":29,"f":-47,"v":0.006},{"s":29,"f":-31,"v":0.011},{"s":29,"f":-16,"v":0.02},{"s":29,"f":0,"v":0.023},{"s":29,"f":15,"v":0.028},{"s":29,"f":30,"v":0.014},{"s":29,"f":46,"v":0.008},{"s":29,"f":77,"v":0.004},{"s":29,"f":107,"v":0.004},{"s":29,"f":123,"v":0.005},{"s":29,"f":138,"v":0.006},{"s":29,"f":154,"v":0.003},{"s":29,"f":184,"v":0.004},{"s":29,"f":200,"v":0.006},{"s":29,"f":215,"v":0.008},{"s":29,"f":231,"v":0.008},{"s":29,"f":261,"v":0.005},{"s":29,"f":308,"v":0.004},{"s":29,"f":354,"v":0.004},{"s":29,"f":369,"v":0.005},{"s":29,"f":385,"v":0.008},{"s":29,"f":400,"v":0.011},{"s":29,"f":415,"v":0.008},{"s":29,"f":431,"v":0.005},{"s":29,"f":462,"v":0.004},{"s":29,"f":508,"v":0.003},{"s":29,"f":554,"v":0.003},{"s":29,"f":600,"v":0.003},
{"s":30,"f":-100,"v":0.004},{"s":30,"f":-47,"v":0.005},{"s":30,"f":-31,"v":0.009},{"s":30,"f":-16,"v":0.017},{"s":30,"f":0,"v":0.02},{"s":30,"f":15,"v":0.024},{"s":30,"f":30,"v":0.012},{"s":30,"f":46,"v":0.006},{"s":30,"f":77,"v":0.003},{"s":30,"f":107,"v":0.003},{"s":30,"f":123,"v":0.004},{"s":30,"f":138,"v":0.005},{"s":30,"f":154,"v":0.002},{"s":30,"f":184,"v":0.003},{"s":30,"f":200,"v":0.004},{"s":30,"f":215,"v":0.006},{"s":30,"f":231,"v":0.006},{"s":30,"f":261,"v":0.004},{"s":30,"f":308,"v":0.003},{"s":30,"f":354,"v":0.003},{"s":30,"f":369,"v":0.004},{"s":30,"f":385,"v":0.006},{"s":30,"f":400,"v":0.009},{"s":30,"f":415,"v":0.006},{"s":30,"f":431,"v":0.004},{"s":30,"f":462,"v":0.003},{"s":30,"f":508,"v":0.002},{"s":30,"f":554,"v":0.002},{"s":30,"f":600,"v":0.002},
{"s":31,"f":-100,"v":0.004},{"s":31,"f":-47,"v":0.005},{"s":31,"f":-31,"v":0.01},{"s":31,"f":-16,"v":0.019},{"s":31,"f":0,"v":0.023},{"s":31,"f":15,"v":0.028},{"s":31,"f":30,"v":0.014},{"s":31,"f":46,"v":0.007},{"s":31,"f":77,"v":0.003},{"s":31,"f":107,"v":0.003},{"s":31,"f":123,"v":0.004},{"s":31,"f":138,"v":0.005},{"s":31,"f":154,"v":0.002},{"s":31,"f":184,"v":0.002},{"s":31,"f":200,"v":0.004},{"s":31,"f":215,"v":0.006},{"s":31,"f":231,"v":0.006},{"s":31,"f":261,"v":0.004},{"s":31,"f":308,"v":0.002},{"s":31,"f":354,"v":0.003},{"s":31,"f":369,"v":0.003},{"s":31,"f":385,"v":0.006},{"s":31,"f":400,"v":0.008},{"s":31,"f":415,"v":0.005},{"s":31,"f":431,"v":0.003},{"s":31,"f":462,"v":0.003},{"s":31,"f":508,"v":0.002},{"s":31,"f":554,"v":0.002},{"s":31,"f":600,"v":0.002},
{"s":32,"f":-100,"v":0.004},{"s":32,"f":-47,"v":0.005},{"s":32,"f":-31,"v":0.01},{"s":32,"f":-16,"v":0.019},{"s":32,"f":0,"v":0.022},{"s":32,"f":15,"v":0.027},{"s":32,"f":30,"v":0.013},{"s":32,"f":46,"v":0.007},{"s":32,"f":77,"v":0.003},{"s":32,"f":107,"v":0.003},{"s":32,"f":123,"v":0.004},{"s":32,"f":138,"v":0.005},{"s":32,"f":154,"v":0.002},{"s":32,"f":184,"v":0.002},{"s":32,"f":200,"v":0.004},{"s":32,"f":215,"v":0.005},{"s":32,"f":231,"v":0.005},{"s":32,"f":261,"v":0.003},{"s":32,"f":308,"v":0.002},{"s":32,"f":354,"v":0.003},{"s":32,"f":369,"v":0.003},{"s":32,"f":385,"v":0.006},{"s":32,"f":400,"v":0.008},{"s":32,"f":415,"v":0.005},{"s":32,"f":431,"v":0.003},{"s":32,"f":462,"v":0.003},{"s":32,"f":508,"v":0.002},{"s":32,"f":554,"v":0.002},{"s":32,"f":600,"v":0.002}
]
},
"hconcat":[
{
 "title":"C−13 NMR spectra",
 "width":432,"height":427,
 "layer":[
  {"data":{"name":"spectra"},"mark":{"type":"line","strokeWidth":1,"clip":true},
   "encoding":{
    "x":{"field":"f","type":"quantitative","scale":{"domain":[-100,600],"nice":false,"zero":false},"axis":{"values":[0,200,400,600],"title":"chemical shift frequency [Hz]"}},
    "y":{"field":"v","type":"quantitative","scale":{"domain":[0,1],"nice":false,"zero":false},"axis":{"values":[0,0.2,0.4,0.6,0.8,1],"format":"~g","title":"normalized peak intensity [a.u.]"}},
    "color":{"field":"s","type":"nominal","scale":{"domain":[1,2,3,4,5,6,7,8,9,10,11,12,13,14,15,16,17,18,19,20,21,22,23,24,25,26,27,28,29,30,31,32],"range":["#0000ff","#008000","#ff0000","#00bfbf","#bf00bf","#bfbf00","#404040","#0000ff","#008000","#ff0000","#00bfbf","#bf00bf","#bfbf00","#404040","#0000ff","#008000","#ff0000","#00bfbf","#bf00bf","#bfbf00","#404040","#0000ff","#008000","#ff0000","#00bfbf","#bf00bf","#bfbf00","#404040","#0000ff","#008000","#ff0000","#00bfbf"]},"legend":null}
   }},
  {"data":{"name":"windows"},"mark":{"type":"rule","strokeDash":[12,13],"strokeWidth":2},
   "encoding":{
    "x":{"field":"f","type":"quantitative","axis":null},
    "color":{"field":"m","type":"nominal","scale":{"domain":["Lactate","Pyruvate hydrate","Alanine","Pyruvate"],"range":["#00ff00","#ff00ff","#1b2c8c","#e08000"]},"legend":null}
   }},
  {"data":{"name":"spectra"},"mark":{"type":"point","opacity":0},
   "encoding":{
    "x":{"field":"f","type":"quantitative","axis":{"orient":"top","values":[0,200,400,600],"labels":false,"title":null}},
    "y":{"field":"v","type":"quantitative","axis":{"orient":"right","values":[0,0.2,0.4,0.6,0.8,1],"labels":false,"title":null}}
   }}
 ],
 "resolve":{"scale":{"color":"independent"},"axis":{"x":"independent","y":"independent"}}
},
{
 "title":"Metabolic time curves",
 "width":432,"height":428,
 "layer":[
  {"data":{"name":"curves"},"mark":{"type":"line","strokeWidth":4,"clip":true},
   "encoding":{
    "x":{"field":"t","type":"quantitative","scale":{"domain":[1,32],"nice":false,"zero":false},"axis":{"values":[5,10,15,20,25,30],"title":"time [s]"}},
    "y":{"field":"v","type":"quantitative","scale":{"domain":[0,1],"nice":false,"zero":false},"axis":{"values":[0.1,0.2,0.3,0.4,0.5,0.6,0.7,0.8,0.9],"format":"~g","title":"normalized signal intensity [a.u.]","titlePadding":13}},
    "color":{"field":"m","type":"nominal","scale":{"domain":["Lactate","Pyruvate hydrate","Alanine","Pyruvate"],"range":["#00ff00","#ff00ff","#1b2c8c","#e08000"]},
     "legend":{"title":null,"orient":"top-right","offset":10,"fillColor":"white","strokeColor":"black","padding":5,"symbolType":"M-2.5,0H2.5","symbolSize":676,"symbolStrokeWidth":4,"symbolOffset":26,"labelFontSize":26,"labelFont":"Liberation Sans","labelColor":"black","labelOffset":25,"labelLimit":400,"rowPadding":2}}
   }},
  {"data":{"name":"curves"},"mark":{"type":"point","opacity":0},
   "encoding":{
    "x":{"field":"t","type":"quantitative","axis":{"orient":"top","values":[5,10,15,20,25,30],"labels":false,"title":null}},
    "y":{"field":"v","type":"quantitative","axis":{"orient":"right","values":[0.1,0.2,0.3,0.4,0.5,0.6,0.7,0.8,0.9],"labels":false,"title":null}}
   }}
 ],
 "resolve":{"axis":{"x":"independent","y":"independent"}}
}
],
"resolve":{"scale":{"color":"independent"}}
}
